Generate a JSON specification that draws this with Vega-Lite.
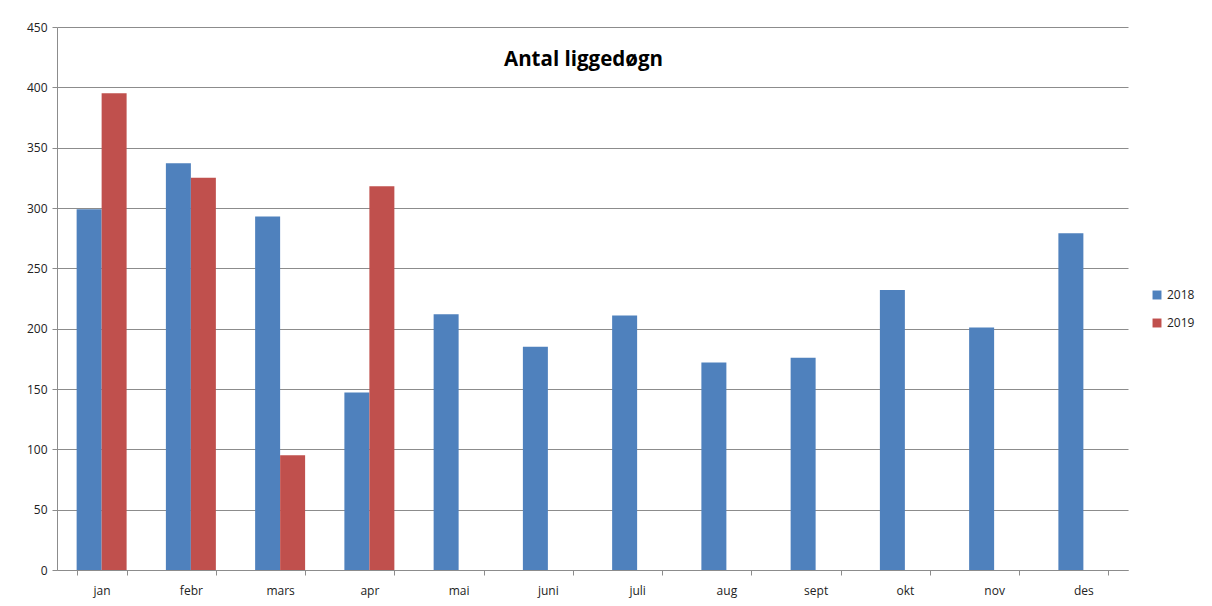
{
  "$schema": "https://vega.github.io/schema/vega-lite/v6.json",
  "width": 1071,
  "height": 543,
  "autosize": {"type": "none"},
  "padding": {"left": 57, "top": 27, "right": 84, "bottom": 36},
  "background": "white",
  "title": {"text": "Antal liggedøgn", "font": "Open Sans", "fontSize": 20.5, "fontWeight": "bold", "color": "#000000", "anchor": "middle", "offset": -49, "dx": -9},
  "data": {"values": [
    {"m": "jan", "y": "2018", "v": 299}, {"m": "jan", "y": "2019", "v": 395},
    {"m": "febr", "y": "2018", "v": 337}, {"m": "febr", "y": "2019", "v": 325},
    {"m": "mars", "y": "2018", "v": 293}, {"m": "mars", "y": "2019", "v": 95},
    {"m": "apr", "y": "2018", "v": 147}, {"m": "apr", "y": "2019", "v": 318},
    {"m": "mai", "y": "2018", "v": 212},
    {"m": "juni", "y": "2018", "v": 185},
    {"m": "juli", "y": "2018", "v": 211},
    {"m": "aug", "y": "2018", "v": 172},
    {"m": "sept", "y": "2018", "v": 176},
    {"m": "okt", "y": "2018", "v": 232},
    {"m": "nov", "y": "2018", "v": 201},
    {"m": "des", "y": "2018", "v": 279}
  ]},
  "mark": {"type": "bar"},
  "encoding": {
    "x": {"field": "m", "type": "nominal", "sort": null,
      "scale": {"paddingInner": 0.44, "paddingOuter": 0.22},
      "axis": {"title": null, "labelAngle": 0, "tickBand": "extent", "domainColor": "#8c8c8c", "tickColor": "#8c8c8c", "tickSize": 5, "labelFont": "Open Sans", "labelFontSize": 12, "labelColor": "#222222", "labelPadding": 10, "grid": false}},
    "xOffset": {"field": "y", "type": "nominal", "scale": {"paddingInner": 0, "paddingOuter": 0}},
    "y": {"field": "v", "type": "quantitative",
      "scale": {"domain": [0, 450], "nice": false},
      "axis": {"title": null, "values": [0,50,100,150,200,250,300,350,400,450], "grid": true, "gridColor": "#8c8c8c", "gridWidth": 1, "domainColor": "#8c8c8c", "tickColor": "#8c8c8c", "tickSize": 5, "labelFont": "Open Sans", "labelFontSize": 12, "labelColor": "#222222", "labelPadding": 5}},
    "color": {"field": "y", "type": "nominal",
      "scale": {"domain": ["2018", "2019"], "range": ["#4F81BD", "#C0504D"]},
      "legend": {"title": null, "orient": "none", "legendX": 1094, "legendY": 262, "symbolType": "square", "symbolSize": 80, "symbolStrokeWidth": 0, "rowPadding": 16, "labelFont": "Open Sans", "labelFontSize": 12, "labelColor": "#222222"}}
  },
  "config": {"view": {"stroke": null}}
}
